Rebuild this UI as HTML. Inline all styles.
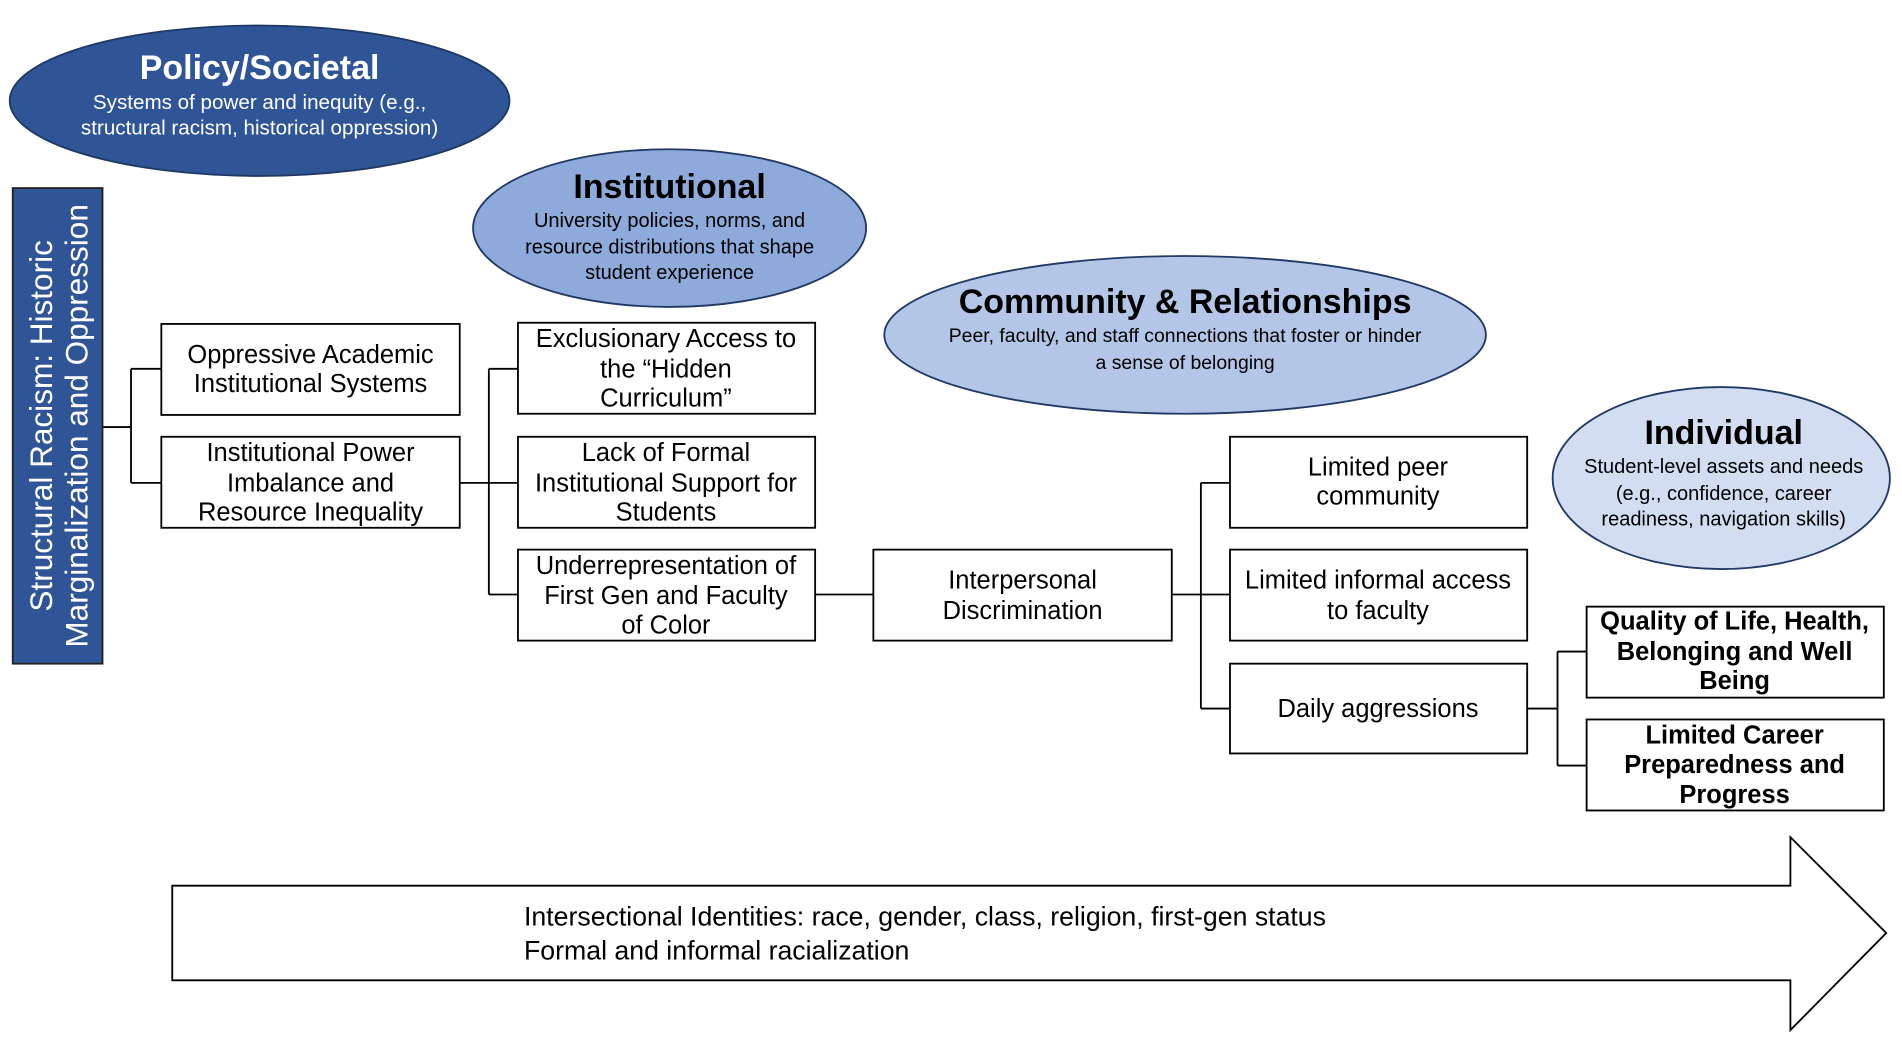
<!DOCTYPE html>
<html><head><meta charset="utf-8"><style>
html,body{margin:0;padding:0;background:#fff;}
svg{display:block;}
text{font-family:"Liberation Sans",Arial,sans-serif;}
</style></head><body>
<svg width="1902" height="1041" viewBox="0 0 1568 858" preserveAspectRatio="none" xmlns="http://www.w3.org/2000/svg">
<rect width="1568" height="858" fill="#fff"/>
<ellipse cx="214" cy="83" rx="206" ry="62" fill="#2f5597" stroke="#1f3864" stroke-width="1.5"/>
<text x="214" y="65" text-anchor="middle" font-size="28" font-weight="bold" fill="#fff">Policy/Societal</text>
<text x="214" y="90" text-anchor="middle" font-size="17" fill="#fff">Systems of power and inequity (e.g.,</text>
<text x="214" y="111" text-anchor="middle" font-size="17" fill="#fff">structural racism, historical oppression)</text>

<ellipse cx="552" cy="188" rx="162" ry="65" fill="#8eaadb" stroke="#1f3864" stroke-width="1.5"/>
<text x="552" y="163" text-anchor="middle" font-size="28" font-weight="bold" fill="#000">Institutional</text>
<text x="552" y="187" text-anchor="middle" font-size="16.5" fill="#000">University policies, norms, and</text>
<text x="552" y="209" text-anchor="middle" font-size="16.5" fill="#000">resource distributions that shape</text>
<text x="552" y="230" text-anchor="middle" font-size="16.5" fill="#000">student experience</text>

<ellipse cx="977" cy="276" rx="248" ry="65" fill="#b4c6e7" stroke="#1f3864" stroke-width="1.5"/>
<text x="977" y="258" text-anchor="middle" font-size="28" font-weight="bold" fill="#000">Community &amp; Relationships</text>
<text x="977" y="282" text-anchor="middle" font-size="16" fill="#000">Peer, faculty, and staff connections that foster or hinder</text>
<text x="977" y="304" text-anchor="middle" font-size="16" fill="#000">a sense of belonging</text>

<ellipse cx="1419" cy="394" rx="139" ry="75" fill="#d2ddf1" stroke="#1f3864" stroke-width="1.5"/>
<text x="1421" y="366" text-anchor="middle" font-size="28" font-weight="bold" fill="#000">Individual</text>
<text x="1421" y="390" text-anchor="middle" font-size="16.5" fill="#000">Student-level assets and needs</text>
<text x="1421" y="412" text-anchor="middle" font-size="16.5" fill="#000">(e.g., confidence, career</text>
<text x="1421" y="433" text-anchor="middle" font-size="16.5" fill="#000">readiness, navigation skills)</text>

<rect x="10.5" y="155" width="74" height="392" fill="#2f5597" stroke="#222" stroke-width="1.5"/>
<g transform="translate(0,351) rotate(-90)">
<text x="0" y="43" text-anchor="middle" font-size="26" fill="#fff">Structural Racism: Historic</text>
<text x="0" y="72" text-anchor="middle" font-size="26" fill="#fff">Marginalization and Oppression</text>
</g>

<g stroke="#000" stroke-width="1.5" fill="none">
<path d="M85 352H108M108 304V398M108 304H133M108 398H133"/>
<path d="M379 398H403M403 304V490M403 304H427M403 398H427M403 490H427"/>
<path d="M672 490H720"/>
<path d="M966 490H990M990 398V584M990 398H1014M990 490H1014M990 584H1014"/>
<path d="M1259 584H1284M1284 537V631M1284 537H1308M1284 631H1308"/>
</g>

<g fill="#fff" stroke="#000" stroke-width="1.5">
<rect x="133" y="267" width="246" height="75"/>
<rect x="133" y="360" width="246" height="75"/>
<rect x="427" y="266" width="245" height="75"/>
<rect x="427" y="360" width="245" height="75"/>
<rect x="427" y="453" width="245" height="75"/>
<rect x="720" y="453" width="246" height="75"/>
<rect x="1014" y="360" width="245" height="75"/>
<rect x="1014" y="453" width="245" height="75"/>
<rect x="1014" y="547" width="245" height="74"/>
<rect x="1308" y="500" width="245" height="75"/>
<rect x="1308" y="593" width="245" height="75"/>
</g>
<g font-size="21" text-anchor="middle" fill="#000">
<text x="256" y="299">Oppressive Academic</text>
<text x="256" y="323">Institutional Systems</text>
<text x="256" y="380">Institutional Power</text>
<text x="256" y="405">Imbalance and</text>
<text x="256" y="429">Resource Inequality</text>
<text x="549" y="286">Exclusionary Access to</text>
<text x="549" y="311">the “Hidden</text>
<text x="549" y="335">Curriculum”</text>
<text x="549" y="380">Lack of Formal</text>
<text x="549" y="405">Institutional Support for</text>
<text x="549" y="429">Students</text>
<text x="549" y="473">Underrepresentation of</text>
<text x="549" y="498">First Gen and Faculty</text>
<text x="549" y="522">of Color</text>
<text x="843" y="485">Interpersonal</text>
<text x="843" y="510">Discrimination</text>
<text x="1136" y="392">Limited peer</text>
<text x="1136" y="416">community</text>
<text x="1136" y="485">Limited informal access</text>
<text x="1136" y="510">to faculty</text>
<text x="1136" y="591">Daily aggressions</text>
<g font-weight="bold">
<text x="1430" y="519">Quality of Life, Health,</text>
<text x="1430" y="544">Belonging and Well</text>
<text x="1430" y="568">Being</text>
<text x="1430" y="613">Limited Career</text>
<text x="1430" y="637">Preparedness and</text>
<text x="1430" y="662">Progress</text>
</g>
</g>

<path d="M142 730H1476V690L1555 769L1476 849V808H142Z" fill="#fff" stroke="#000" stroke-width="1.5"/>
<text x="432" y="763" font-size="22" fill="#000">Intersectional Identities: race, gender, class, religion, first-gen status</text>
<text x="432" y="791" font-size="22" fill="#000">Formal and informal racialization</text>
</svg>
</body></html>
